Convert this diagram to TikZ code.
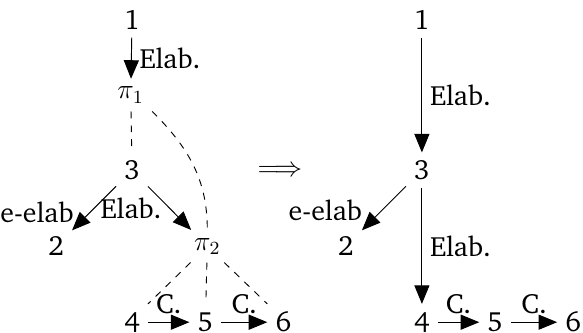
\documentclass[tikz,border=0pt]{standalone}
\usepackage[T1]{fontenc}
\IfFileExists{charter.sty}{\usepackage{charter}}{}
\usetikzlibrary{arrows.meta}

\begin{document}
\begin{tikzpicture}[>={Triangle[length=8pt,width=6.5pt]},
  font=\fontsize{12}{14}\selectfont,
  rel/.style={->},
  sub/.style={dashed}]
  \useasboundingbox (0,0) rectangle (8.83,-5.03);
  % left: before
  \node (l1) at (2.00,-0.30) {1};
  \node (lp1) at (1.98,-1.44) {$\pi_1$};
  \node (l3) at (2.00,-2.58) {3};
  \node (l2) at (0.85,-3.73) {2};
  \node (lp2) at (3.14,-3.73) {$\pi_2$};
  \node (l4) at (2.00,-4.88) {4};
  \node (l5) at (3.11,-4.88) {5};
  \node (l6) at (4.29,-4.88) {6};
  \draw[rel] (l1) -- node[right] {Elab.} (lp1);
  \draw[sub] (lp1) -- (l3);
  \draw[sub] (lp1.south east) to[out=-45,in=90] (lp2);
  \draw[rel] (l3) -- node[pos=0.6,left=3.4pt] {e-elab} (l2);
  \draw[rel] (l3) -- node[pos=0.5,left=0pt] {Elab.} (lp2);
  \draw[sub] (lp2) -- (l4.north east);
  \draw[sub] (lp2) -- (l5);
  \draw[sub] (lp2) -- (l6.north west);
  \draw[rel] (l4) -- node[above] {C.} (l5);
  \draw[rel] (l5) -- node[above] {C.} (l6);
  % arrow between
  \node (impl) at (4.24,-2.59) {$\Longrightarrow$};
  % right: after
  \node (r1) at (6.39,-0.30) {1};
  \node (r3) at (6.39,-2.58) {3};
  \node (r2) at (5.24,-3.73) {2};
  \node (r4) at (6.39,-4.88) {4};
  \node (r5) at (7.50,-4.88) {5};
  \node (r6) at (8.68,-4.88) {6};
  \draw[rel] (r1) -- node[right] {Elab.} (r3);
  \draw[rel] (r3) -- node[pos=0.55,left=5pt] {e-elab} (r2);
  \draw[rel] (r3) -- node[right] {Elab.} (r4);
  \draw[rel] (r4) -- node[above] {C.} (r5);
  \draw[rel] (r5) -- node[above] {C.} (r6);
\end{tikzpicture}
\end{document}
